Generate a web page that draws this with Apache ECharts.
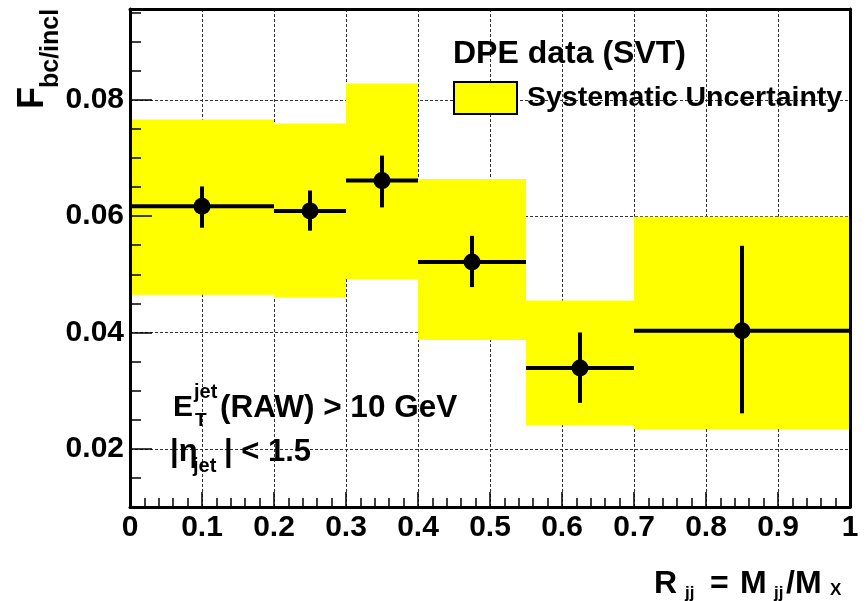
<!DOCTYPE html>
<html>
<head>
<meta charset="utf-8">
<script src="https://cdn.jsdelivr.net/npm/echarts@6/dist/echarts.min.js"></script>
<style>
html, body { margin: 0; padding: 0; background: #fff; }
#main { width: 867px; height: 601px; }
</style>
</head>
<body>
<div id="main"></div>
<script>
// bins in R_jj, measured fraction, stat. error and systematic band
var binLow   = [0.0, 0.2, 0.3, 0.4, 0.55, 0.7];
var binHigh  = [0.2, 0.3, 0.4, 0.55, 0.7, 1.0];
var xCenter  = [0.1, 0.25, 0.35, 0.475, 0.625, 0.85];
var fValue   = [0.0617, 0.0609, 0.0661, 0.0521, 0.0339, 0.0403];
var statLow  = [0.0580, 0.0575, 0.0615, 0.0478, 0.0279, 0.0261];
var statHigh = [0.0651, 0.0644, 0.0704, 0.0566, 0.0400, 0.0549];
var sysLow   = [0.0465, 0.0460, 0.0492, 0.0387, 0.0241, 0.0234];
var sysHigh  = [0.0766, 0.0759, 0.0828, 0.0664, 0.0455, 0.0599];
var yMajorTicks = [0.02, 0.04, 0.06, 0.08];

var FONT = 'Liberation Sans';
var Y_MIN = 0.01, Y_MAX = 0.0956;

function txt(s, x, y, size, extra) {
    var o = {
        type: 'text', x: x, y: y, z: 100,
        style: { text: s, fill: '#000', font: 'bold ' + size + 'px "' + FONT + '"',
                 textAlign: 'left', textVerticalAlign: 'middle' }
    };
    if (extra) for (var k in extra) o[k] = extra[k];
    return o;
}

var chart = echarts.init(document.getElementById('main'));

var bandData = binLow.map(function (v, i) { return [v, binHigh[i], sysLow[i], sysHigh[i]]; });
var pointData = xCenter.map(function (v, i) {
    return [v, fValue[i], binLow[i], binHigh[i], statLow[i], statHigh[i]];
});

option = {
    animation: false,
    backgroundColor: '#fff',
    grid: { left: 130, right: 17, top: 9, bottom: 94 },
    title: {
        text: 'DPE data (SVT)',
        left: 448, top: 33,
        textStyle: { fontFamily: FONT, fontWeight: 'bold', fontSize: 32, color: '#000' }
    },
    legend: {
        left: 448, top: 76,
        selectedMode: false,
        itemWidth: 63, itemHeight: 32,
        textStyle: { fontFamily: FONT, fontWeight: 'bold', fontSize: 28.5, color: '#000', padding: [0, 0, 0, 5] },
        data: [{
            name: 'Systematic Uncertainty', icon: 'rect',
            itemStyle: { color: '#ffff00', borderColor: '#000', borderWidth: 2 }
        }]
    },
    xAxis: [{
        type: 'value', min: 0, max: 1, interval: 0.1,
        axisLine: { lineStyle: { color: '#000', width: 3 } },
        axisTick: { inside: true, length: 15, lineStyle: { color: '#000', width: 1.5 } },
        minorTick: { show: true, splitNumber: 5, length: 9, lineStyle: { color: '#000', width: 1.5 } },
        splitLine: { show: true, lineStyle: { color: '#333', type: [3, 2], width: 1 } },
        axisLabel: { fontFamily: FONT, fontWeight: 'bold', fontSize: 30, color: '#000', margin: 6 }
    }, {
        type: 'value', position: 'top', min: 0, max: 1, z: 10,
        axisLine: { lineStyle: { color: '#000', width: 3 } },
        axisTick: { show: false }, axisLabel: { show: false }, splitLine: { show: false }
    }],
    yAxis: [{
        type: 'value', min: Y_MIN, max: Y_MAX, interval: 0.005, z: 10,
        axisLine: { show: true, lineStyle: { color: '#000', width: 3 } },
        axisTick: { inside: true, length: 11, lineStyle: { color: '#000', width: 1.5 } },
        axisLabel: { show: false },
        splitLine: { show: false }
    }, {
        type: 'value', position: 'left', min: Y_MIN, max: Y_MAX, interval: 0.005, z: 10,
        axisLine: { show: false },
        axisTick: { inside: true, length: 22, customValues: yMajorTicks, lineStyle: { color: '#000', width: 1.5 } },
        axisLabel: {
            customValues: yMajorTicks, fontFamily: FONT, fontWeight: 'bold', fontSize: 30, color: '#000', margin: 6,
            formatter: function (v) { return v.toFixed(2); }
        },
        splitLine: { show: false }
    }, {
        type: 'value', position: 'right', min: Y_MIN, max: Y_MAX, z: 10,
        axisLine: { show: true, lineStyle: { color: '#000', width: 3 } },
        axisTick: { show: false }, axisLabel: { show: false }, splitLine: { show: false }
    }],
    series: [{
        name: 'Systematic Uncertainty',
        type: 'custom',
        z: 2,
        xAxisIndex: 0, yAxisIndex: 0,
        itemStyle: { color: '#ffff00' },
        encode: { x: [0, 1], y: [2, 3] },
        data: bandData,
        renderItem: function (params, api) {
            var p0 = api.coord([api.value(0), api.value(3)]);
            var p1 = api.coord([api.value(1), api.value(2)]);
            return {
                type: 'rect',
                shape: { x: p0[0], y: p0[1], width: p1[0] - p0[0], height: p1[1] - p0[1] },
                style: { fill: '#ffff00' }
            };
        },
        markLine: {
            silent: true, symbol: 'none', z: 1,
            label: { show: false },
            lineStyle: { color: '#333', type: [3, 2], width: 1 },
            data: yMajorTicks.map(function (v) { return { yAxis: v }; })
        }
    }, {
        name: 'DPE data (SVT)',
        type: 'custom',
        z: 3,
        xAxisIndex: 0, yAxisIndex: 0,
        encode: { x: [0, 2, 3], y: [1, 4, 5] },
        data: pointData,
        renderItem: function (params, api) {
            var c = api.coord([api.value(0), api.value(1)]);
            var l = api.coord([api.value(2), api.value(1)]);
            var r = api.coord([api.value(3), api.value(1)]);
            var lo = api.coord([api.value(0), api.value(4)]);
            var hi = api.coord([api.value(0), api.value(5)]);
            var ls = { stroke: '#000', lineWidth: 4 };
            return {
                type: 'group',
                children: [
                    { type: 'line', shape: { x1: l[0], y1: l[1], x2: r[0], y2: r[1] }, style: ls },
                    { type: 'line', shape: { x1: lo[0], y1: lo[1], x2: hi[0], y2: hi[1] }, style: ls },
                    { type: 'circle', shape: { cx: c[0], cy: c[1], r: 8.5 }, style: { fill: '#000' } }
                ]
            };
        }
    }],
    graphic: [
        // y axis title F_bc/incl
        txt('F', 33, 109, 36, { rotation: Math.PI / 2 }),
        txt('bc/incl', 51, 88, 25, { rotation: Math.PI / 2 }),
        // x axis title R_jj = M_jj/M_X
        txt('R', 654, 584, 32),
        txt('jj', 685, 593, 17),
        txt('=', 710, 584, 32),
        txt('M', 740, 584, 32),
        txt('jj', 774, 593, 17),
        txt('/M', 786, 584, 32),
        txt('X', 830, 590, 17),
        // cuts
        txt('E', 173, 408, 30),
        txt('jet', 194, 392, 20),
        txt('T', 195, 421, 19),
        txt('(RAW) > 10 GeV', 220, 408, 31.5),
        txt('|\u03b7', 170, 452, 31),
        txt('jet', 193, 466, 20),
        txt('| < 1.5', 224, 452, 31)
    ]
};

chart.setOption(option);
</script>
</body>
</html>
